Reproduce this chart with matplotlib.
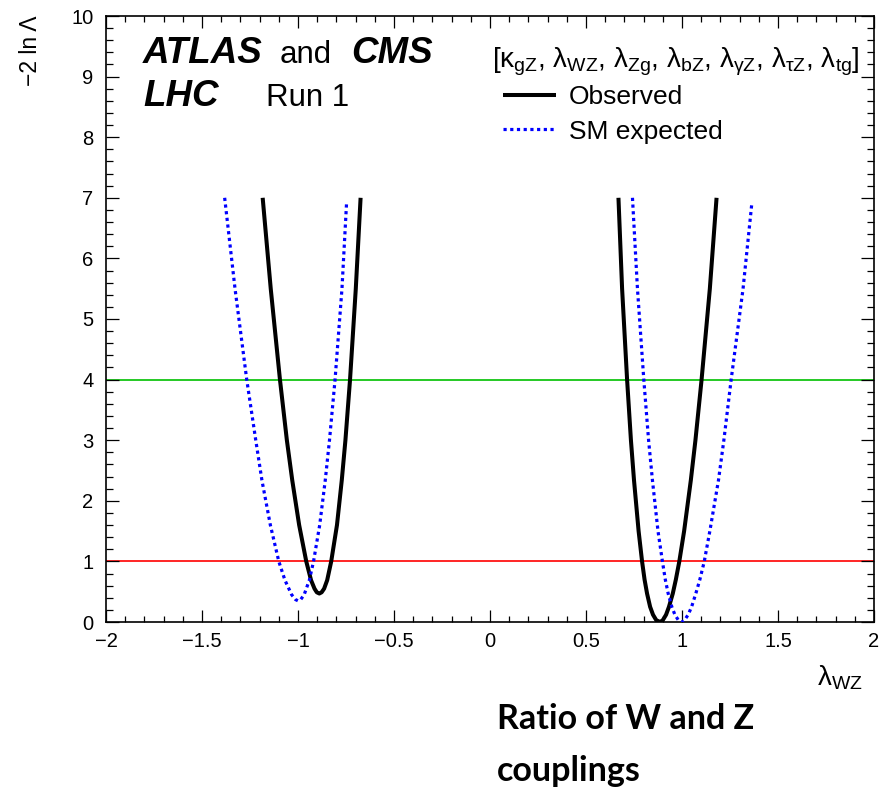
import matplotlib
matplotlib.use("Agg")
import matplotlib.pyplot as plt
from matplotlib import font_manager
from matplotlib.ticker import MultipleLocator
from matplotlib.lines import Line2D

# ---------------- data ----------------
obs_left_x = [-1.184, -1.142, -1.094, -1.058, -1.030, -0.994, -0.957, -0.932, -0.914,
              -0.902, -0.889, -0.877, -0.864, -0.848, -0.827, -0.797, -0.772, -0.753,
              -0.729, -0.699, -0.674]
obs_left_y = [7.0, 5.5, 4.0, 3.0, 2.34, 1.6, 1.0, 0.69, 0.55,
              0.49, 0.47, 0.49, 0.55, 0.69, 1.0, 1.6, 2.34, 3.0,
              4.0, 5.5, 7.0]

exp_left_x = [-1.382, -1.328, -1.267, -1.220, -1.188, -1.144, -1.100, -1.068, -1.033,
              -1.013, -1.000, -0.986, -0.968, -0.941, -0.919, -0.887, -0.858, -0.836,
              -0.807, -0.771, -0.747]
exp_left_y = [7.0, 5.5, 4.0, 3.0, 2.34, 1.6, 1.0, 0.69, 0.45,
              0.37, 0.35, 0.37, 0.45, 0.69, 1.0, 1.6, 2.34, 3.0,
              4.0, 5.5, 6.92]

obs_right_x = [0.669, 0.688, 0.714, 0.734, 0.750, 0.774, 0.792, 0.805, 0.818, 0.834,
               0.849, 0.866, 0.886, 0.900, 0.917, 0.932, 0.952, 0.968, 0.986, 1.011,
               1.046, 1.070, 1.102, 1.145, 1.180]
obs_right_y = [7.0, 5.5, 4.0, 3.0, 2.34, 1.5, 1.0, 0.7, 0.47, 0.25,
               0.12, 0.03, 0.0, 0.03, 0.12, 0.25, 0.47, 0.7, 1.0, 1.5,
               2.34, 3.0, 4.0, 5.5, 7.0]

exp_right_x = [0.742, 0.768, 0.801, 0.826, 0.846, 0.875, 0.898, 0.913, 0.928, 0.947,
               0.963, 0.981, 1.000, 1.013, 1.032, 1.050, 1.072, 1.093, 1.116, 1.145,
               1.190, 1.218, 1.256, 1.318, 1.364]
exp_right_y = [7.0, 5.5, 4.0, 3.0, 2.34, 1.5, 1.0, 0.7, 0.47, 0.25,
               0.12, 0.03, 0.0, 0.03, 0.12, 0.25, 0.47, 0.7, 1.0, 1.5,
               2.34, 3.0, 4.0, 5.5, 6.92]

ref_levels = [1.0, 4.0]
ref_colors = ["#ff0000", "#00c000"]

x_ticks = [-2, -1.5, -1, -0.5, 0, 0.5, 1, 1.5, 2]
x_tick_labels = ["\u22122", "\u22121.5", "\u22121", "\u22120.5", "0", "0.5", "1", "1.5", "2"]
y_ticks = [0, 1, 2, 3, 4, 5, 6, 7, 8, 9, 10]
y_tick_labels = [str(v) for v in y_ticks]

legend_header = (r"[κ$_{\mathrm{gZ}}$, λ$_{\mathrm{WZ}}$, λ$_{\mathrm{Zg}}$, "
                 r"λ$_{\mathrm{bZ}}$, λ$_{\mathrm{γZ}}$, λ$_{\mathrm{τZ}}$, λ$_{\mathrm{tg}}$]")
legend_labels = ["Observed", "SM expected"]

# ---------------- fonts ----------------
names = {f.name for f in font_manager.fontManager.ttflist}
SANS = "Liberation Sans"
BOTTOM = "Lato" if "Lato" in names else "Liberation Sans"

plt.rcParams["font.family"] = [SANS, "DejaVu Sans"]
plt.rcParams["mathtext.fontset"] = "custom"
plt.rcParams["mathtext.rm"] = SANS
plt.rcParams["mathtext.it"] = SANS + ":italic"
plt.rcParams["mathtext.bf"] = SANS + ":bold"

W, H = 887, 794
fig = plt.figure(figsize=(W / 100, H / 100), dpi=100)
AX_L, AX_R, AX_T, AX_B = 106, 874, 16, 622
ax = fig.add_axes([AX_L / W, 1 - AX_B / H, (AX_R - AX_L) / W, (AX_B - AX_T) / H])


def px2ax(px, py):
    return (px - AX_L) / (AX_R - AX_L), (AX_B - py) / (AX_B - AX_T)


for lvl, col in zip(ref_levels, ref_colors):
    ax.axhline(lvl, color=col, lw=1.2, zorder=1)

obs_kw = dict(color="black", lw=2.9, solid_capstyle="butt", solid_joinstyle="round", zorder=3)
exp_kw = dict(color="#0000ff", lw=2.3, linestyle=(0, (1.0, 1.1)), dash_capstyle="butt", zorder=4)
ax.plot(obs_left_x, obs_left_y, **obs_kw)
ax.plot(obs_right_x, obs_right_y, **obs_kw)
ax.plot(exp_left_x, exp_left_y, **exp_kw)
ax.plot(exp_right_x, exp_right_y, **exp_kw)

ax.set_xlim(-2, 2)
ax.set_ylim(0, 10)
ax.set_xticks(x_ticks)
ax.set_xticklabels(x_tick_labels, fontsize=14.5)
ax.set_yticks(y_ticks)
ax.set_yticklabels(y_tick_labels, fontsize=14.5)
ax.xaxis.set_minor_locator(MultipleLocator(0.1))
ax.yaxis.set_minor_locator(MultipleLocator(0.2))
ax.tick_params(which="both", direction="in", top=True, right=True, width=0.9, color="black")
ax.tick_params(axis="x", which="major", length=8.8, pad=7.5)
ax.tick_params(axis="x", which="minor", length=4.5)
ax.tick_params(axis="y", which="major", length=9.5, pad=9)
ax.tick_params(axis="y", which="minor", length=5.0)
for s in ax.spines.values():
    s.set_linewidth(1.2)

ax.set_ylabel("\u22122 ln \u039b", fontsize=16.5, loc="top")
ax.yaxis.set_label_coords(px2ax(42, 0)[0], 1.0)
ax.set_xlabel(r"λ$_{\mathrm{WZ}}$", fontsize=20, loc="right")
ax.xaxis.set_label_coords(px2ax(863, 0)[0], px2ax(0, 664)[1])


# experiment label
def put(px, py, s, **kw):
    x, y = px2ax(px, py)
    return ax.text(x, y, s, transform=ax.transAxes, va="baseline", ha="left", **kw)


bi = dict(fontsize=26.5, fontstyle="italic", fontweight="bold")
rg = dict(fontsize=22.5)
put(143, 63, "ATLAS", **bi)
put(280, 63, "and", **rg)
put(351, 63, "CMS", **bi)
put(143, 106, "LHC", **bi)
put(266, 106, "Run 1", **rg)

# legend header + entries
put(492, 67, legend_header, fontsize=20)
h_obs = Line2D([], [], **obs_kw)
h_exp = Line2D([], [], **exp_kw)
lx, ly = px2ax(503, 85)
ax.legend([h_obs, h_exp], legend_labels, fontsize=19, loc="upper left",
          bbox_to_anchor=(lx, ly), frameon=False, handlelength=2.0, handletextpad=0.5,
          labelspacing=0.4, borderaxespad=0, borderpad=0)

# annotation below the plot
fig.text(497 / W, 1 - 729 / H, "Ratio of W and Z", family=BOTTOM, fontweight="bold",
         fontsize=24.5, va="baseline", ha="left")
fig.text(497 / W, 1 - 781 / H, "couplings", family=BOTTOM, fontweight="bold",
         fontsize=24.5, va="baseline", ha="left")

fig.savefig("out.png", dpi=100)
